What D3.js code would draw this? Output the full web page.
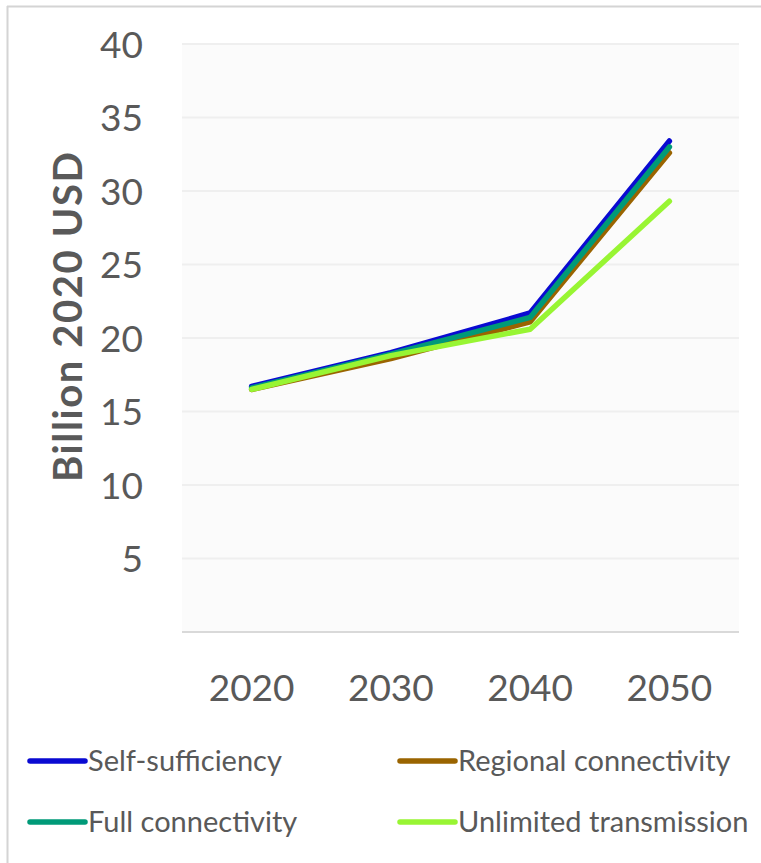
<!DOCTYPE html>
<html>
<head>
<meta charset="utf-8">
<script src="https://cdn.jsdelivr.net/npm/d3@7/dist/d3.min.js"></script>
<style>
  html, body { margin: 0; padding: 0; background: #fff; }
  svg { display: block; }
</style>
</head>
<body>
<svg id="chart" width="761" height="863"></svg>
<script>
// Investment cost by scenario, billion 2020 USD
const years = ["2020", "2030", "2040", "2050"];
const selfSufficiency      = [16.7, 19.0, 21.7, 33.4];
const regionalConnectivity = [16.5, 18.6, 21.1, 32.6];
const fullConnectivity     = [16.6, 18.9, 21.4, 33.0];
const unlimitedTransmission = [16.5, 18.8, 20.6, 29.3];
const yTicks = [5, 10, 15, 20, 25, 30, 35, 40];

const series = [
  { name: "Self-sufficiency", values: selfSufficiency, color: "#0a0ad2" },
  { name: "Regional connectivity", values: regionalConnectivity, color: "#9a6400" },
  { name: "Full connectivity", values: fullConnectivity, color: "#009a78" },
  { name: "Unlimited transmission", values: unlimitedTransmission, color: "#98f533" }
];

const svg = d3.select("#chart");
const font = "Lato, 'Open Sans', sans-serif";
const textColor = "#595959";

// outer chart frame (top and left edges visible)
svg.append("line").attr("x1", 7).attr("x2", 761).attr("y1", 6.5).attr("y2", 6.5)
  .attr("stroke", "#d4d4d4").attr("stroke-width", 2);
svg.append("line").attr("x1", 7.5).attr("x2", 7.5).attr("y1", 6).attr("y2", 863)
  .attr("stroke", "#d4d4d4").attr("stroke-width", 2);

const plot = { left: 182, right: 739, top: 44, bottom: 632 };

const x = d3.scaleBand().domain(years).range([plot.left, plot.right]);
const y = d3.scaleLinear().domain([0, 40]).range([plot.bottom, plot.top]);

// plot area background
svg.append("rect")
  .attr("x", plot.left).attr("y", plot.top)
  .attr("width", plot.right - plot.left).attr("height", plot.bottom - plot.top)
  .attr("fill", "#fbfbfb");

// horizontal gridlines
svg.append("g").selectAll("line").data(yTicks).join("line")
  .attr("x1", plot.left).attr("x2", plot.right)
  .attr("y1", d => y(d)).attr("y2", d => y(d))
  .attr("stroke", "#efefef").attr("stroke-width", 2);

// category axis baseline
svg.append("line")
  .attr("x1", plot.left).attr("x2", plot.right)
  .attr("y1", y(0)).attr("y2", y(0))
  .attr("stroke", "#d9d9d9").attr("stroke-width", 2);

// y tick labels
const yAxis = d3.axisLeft(y).tickValues(yTicks).tickSize(0).tickPadding(0);
const gy = svg.append("g").attr("transform", `translate(${143},0)`).call(yAxis);
gy.select(".domain").remove();
gy.selectAll("text")
  .attr("fill", textColor).attr("font-family", font).attr("font-size", 37)
  .attr("dy", "0.36em");

// x tick labels
const xAxis = d3.axisBottom(x).tickSize(0).tickPadding(0);
const gx = svg.append("g").attr("transform", `translate(0,${688})`).call(xAxis);
gx.select(".domain").remove();
gx.selectAll("text")
  .attr("fill", textColor).attr("font-family", font).attr("font-size", 37)
  .attr("dy", "0.36em");

// y axis title
svg.append("text")
  .attr("transform", `translate(68,${317}) rotate(-90)`)
  .attr("text-anchor", "middle").attr("dy", "0.36em")
  .attr("fill", textColor).attr("font-family", font)
  .attr("font-weight", "bold").attr("font-size", 40)
  .attr("textLength", 330).attr("lengthAdjust", "spacing")
  .text("Billion 2020 USD");

// series lines
const line = d3.line()
  .x((d, i) => x(years[i]) + x.bandwidth() / 2)
  .y(d => y(d));

svg.append("g").selectAll("path").data(series).join("path")
  .attr("d", d => line(d.values))
  .attr("fill", "none")
  .attr("stroke", d => d.color)
  .attr("stroke-width", 5.5)
  .attr("stroke-linecap", "round")
  .attr("stroke-linejoin", "round");

// legend, two columns
const legendPos = [
  { x: 30, y: 761 }, { x: 400, y: 761 },
  { x: 30, y: 822 }, { x: 400, y: 822 }
];
const legend = svg.append("g").selectAll("g").data(series).join("g")
  .attr("transform", (d, i) => `translate(${legendPos[i].x},${legendPos[i].y})`);
legend.append("line")
  .attr("x1", 0).attr("x2", 55).attr("y1", 0).attr("y2", 0)
  .attr("stroke", d => d.color).attr("stroke-width", 5.5)
  .attr("stroke-linecap", "round");
legend.append("text")
  .attr("x", 58).attr("dy", "0.36em")
  .attr("fill", textColor).attr("font-family", font).attr("font-size", 29)
  .text(d => d.name);
</script>
</body>
</html>
